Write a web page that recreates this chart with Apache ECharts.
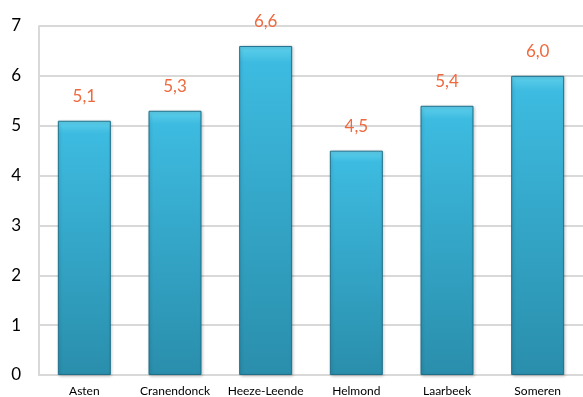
<!DOCTYPE html>
<html>
<head>
<meta charset="utf-8">
<script src="https://cdn.jsdelivr.net/npm/echarts@6/dist/echarts.min.js"></script>
<style>html,body{margin:0;padding:0;background:#fff;}#c{width:583px;height:397px;}</style>
</head>
<body>
<div id="c"></div>
<script>
const categories = ['Asten', 'Cranendonck', 'Heeze-Leende', 'Helmond', 'Laarbeek', 'Someren'];
const values = [5.1, 5.3, 6.6, 4.5, 5.4, 6.0];
const yTicks = [0, 1, 2, 3, 4, 5, 6, 7];

const chart = echarts.init(document.getElementById('c'));
chart.setOption({
  animation: false,
  backgroundColor: '#fff',
  grid: { left: 39, top: 26, width: 550, height: 350 },
  xAxis: {
    type: 'category',
    data: categories,
    axisLine: { show: true, lineStyle: { color: '#d9d9d9', width: 2 } },
    axisTick: { show: false },
    axisLabel: { interval: 0, color: '#000', fontFamily: 'Lato, "Open Sans", sans-serif', fontSize: 12, margin: 10 }
  },
  yAxis: {
    type: 'value',
    min: yTicks[0],
    max: yTicks[yTicks.length - 1],
    interval: 1,
    axisLine: { show: true, lineStyle: { color: '#d9d9d9', width: 2 } },
    axisTick: { show: false },
    splitLine: { lineStyle: { color: '#d9d9d9', width: 2 } },
    axisLabel: { color: '#000', fontFamily: 'Lato, "Open Sans", sans-serif', fontSize: 17, margin: 18 }
  },
  series: [{
    type: 'bar',
    data: values,
    barWidth: 53,
    itemStyle: {
      color: new echarts.graphic.LinearGradient(0, 0, 0, 1, [
        { offset: 0, color: '#5fd0ec' },
        { offset: 0.05, color: '#3dbbe0' },
        { offset: 1, color: '#2a8eac' }
      ]),
      borderColor: '#1f6f88',
      borderWidth: 1,
      shadowColor: 'rgba(0,0,0,0.2)',
      shadowBlur: 3,
      shadowOffsetX: 1,
      shadowOffsetY: 1
    },
    label: {
      show: true,
      position: 'top',
      distance: 16,
      color: '#ee6a3e',
      fontFamily: 'Lato, "Open Sans", sans-serif',
      fontSize: 17,
      formatter: p => p.value.toFixed(1).replace('.', ',')
    }
  }]
});
</script>
</body>
</html>
